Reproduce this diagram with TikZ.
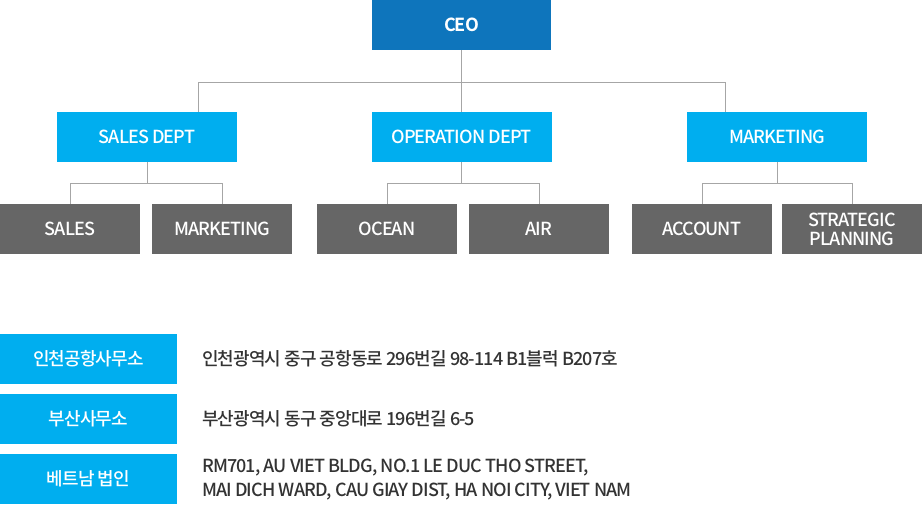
\documentclass[tikz,border=0pt]{standalone}
\usepackage{fontspec}
\setmainfont{Noto Sans CJK KR}[UprightFont=* Medium, BoldFont=* Bold, LetterSpace=-5]
\definecolor{ceoblue}{HTML}{0E75BC}
\definecolor{deptblue}{HTML}{00AEEF}
\definecolor{teamgray}{HTML}{666666}
\definecolor{linegray}{HTML}{A6A6A6}
\definecolor{bodytext}{HTML}{333333}
\tikzset{
  box/.style={rectangle, inner sep=0pt, align=center, text=white, font=\fontsize{18}{19}\selectfont},
  ceobox/.style={box, fill=ceoblue, minimum width=179pt, minimum height=50pt, font=\fontsize{18}{19}\selectfont\bfseries},
  deptbox/.style={box, fill=deptblue, minimum width=180pt, minimum height=50pt},
  teambox/.style={box, fill=teamgray, minimum width=140pt, minimum height=50pt},
  officebox/.style={box, fill=deptblue, minimum width=177pt, minimum height=50pt},
  addr/.style={anchor=west, inner sep=0pt, align=left, text=bodytext, font=\fontsize{18}{24}\selectfont},
  conn/.style={draw=linegray, line width=0.9pt},
}
\begin{document}
\begin{tikzpicture}[x=1pt,y=-1pt]
\useasboundingbox[fill=white] (0,0) rectangle (922,504);
% org chart
\node[ceobox] (ceo) at (461.5,25) {CEO};
\node[deptbox] (salesd) at (147,137) {SALES DEPT};
\node[deptbox] (opd) at (461.5,137) {OPERATION DEPT};
\node[deptbox] (mktd) at (777,137) {MARKETING};
\node[teambox] (sales) at (70,229) {SALES};
\node[teambox] (smkt) at (222,229) {MARKETING};
\node[teambox] (ocean) at (387,229) {OCEAN};
\node[teambox] (air) at (539,229) {AIR};
\node[teambox] (account) at (702,229) {ACCOUNT};
\node[teambox] (strat) at (852,229) {\fontsize{18}{19}\selectfont STRATEGIC\\PLANNING};
% connectors
\coordinate (busl) at (198,82);
\coordinate (busr) at (725,82);
\draw[conn] (ceo.south) -- (opd.north);
\draw[conn] (busl |- salesd.north) -- (busl) -- (busr) -- (busr |- mktd.north);
\coordinate (s1) at (147,183.5);
\coordinate (s2) at (461.5,183.5);
\coordinate (s3) at (777,183.5);
\draw[conn] (salesd.south) -- (s1);
\draw[conn] (sales.north) |- (s1) -| (smkt.north);
\draw[conn] (opd.south) -- (s2);
\draw[conn] (ocean.north) |- (s2) -| (air.north);
\draw[conn] (mktd.south) -- (s3);
\draw[conn] (account.north) |- (s3) -| (strat.north);
% offices
\node[officebox] (icn) at (88.5,359) {인천공항사무소};
\node[officebox] (pus) at (88.5,419) {부산사무소};
\node[officebox] (vn) at (88.5,479) {베트남 법인};
\node[addr] (icnaddr) at (202,359) {인천광역시 중구 공항동로 296번길 98-114 B1블럭 B207호};
\node[addr] (pusaddr) at (202,419) {부산광역시 동구 중앙대로 196번길 6-5};
\node[addr] (vnaddr) at (202,480) {RM701, AU VIET BLDG, NO.1 LE DUC THO STREET,\\MAI DICH WARD, CAU GIAY DIST, HA NOI CITY, VIET NAM};
\end{tikzpicture}
\end{document}
